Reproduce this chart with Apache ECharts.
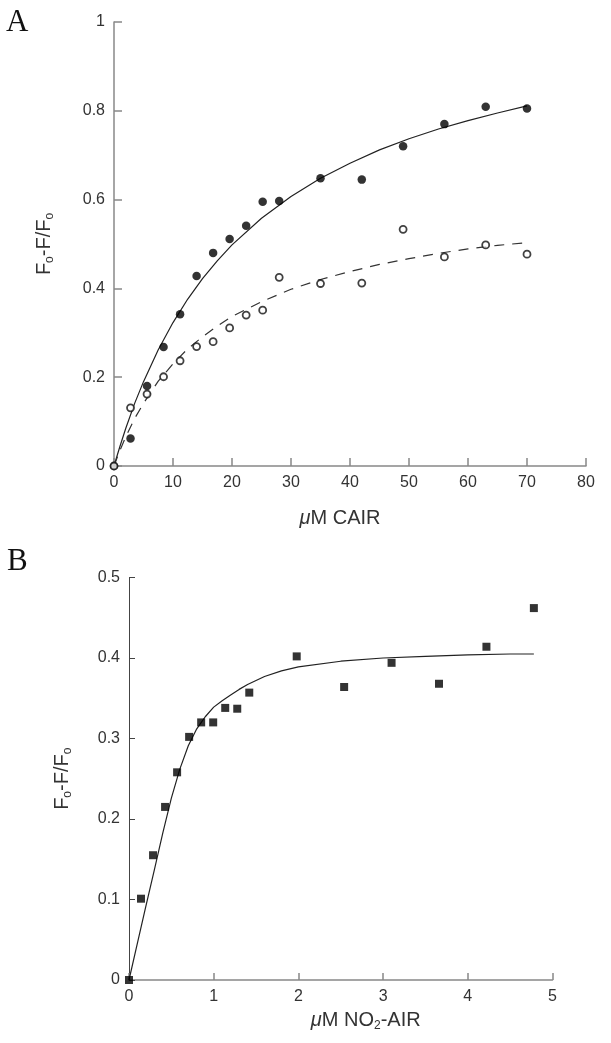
<!DOCTYPE html>
<html>
<head>
<meta charset="utf-8">
<script src="https://cdn.jsdelivr.net/npm/echarts@6/dist/echarts.min.js"></script>
<style>html,body{margin:0;padding:0;background:#fff;}#c{width:611px;height:1043px;}</style>
</head>
<body>
<div id="c"></div>
<script>
// Panel A data
const aX = [0, 2.8, 5.6, 8.4, 11.2, 14, 16.8, 19.6, 22.4, 25.2, 28, 35, 42, 49, 56, 63, 70];
const aFilledY = [0, 0.062, 0.18, 0.268, 0.342, 0.428, 0.48, 0.511, 0.541, 0.595, 0.597, 0.648, 0.645, 0.72, 0.77, 0.809, 0.805];
const aOpenY = [0, 0.131, 0.162, 0.201, 0.237, 0.269, 0.28, 0.311, 0.34, 0.351, 0.425, 0.411, 0.412, 0.533, 0.471, 0.498, 0.477];
const aCurveX = [0, 1, 2, 3.5, 5, 7.5, 10, 12.5, 15, 17.5, 20, 25, 30, 35, 40, 45, 50, 55, 60, 65, 70];
const aSolidY = [0, 0.044, 0.085, 0.141, 0.19, 0.262, 0.323, 0.376, 0.422, 0.462, 0.498, 0.558, 0.607, 0.648, 0.682, 0.712, 0.737, 0.759, 0.778, 0.795, 0.811];
const aDashY = [0, 0.035, 0.066, 0.107, 0.141, 0.191, 0.23, 0.264, 0.291, 0.315, 0.337, 0.37, 0.398, 0.42, 0.438, 0.454, 0.467, 0.479, 0.489, 0.497, 0.503];
const aXTicks = [0, 80, 10];
const aYTicks = [0, 1, 0.2];

// Panel B data
const bX = [0, 0.142, 0.284, 0.426, 0.568, 0.71, 0.852, 0.994, 1.136, 1.278, 1.42, 1.98, 2.54, 3.10, 3.66, 4.22, 4.78];
const bY = [0, 0.101, 0.155, 0.215, 0.258, 0.302, 0.320, 0.320, 0.338, 0.337, 0.357, 0.402, 0.364, 0.394, 0.368, 0.414, 0.462];
const bCurveX = [0, 0.1, 0.2, 0.3, 0.4, 0.5, 0.6, 0.7, 0.8, 0.9, 1.0, 1.1, 1.2, 1.3, 1.4, 1.6, 1.8, 2.0, 2.5, 3.0, 3.5, 4.0, 4.5, 4.78];
const bCurveY = [0, 0.046, 0.092, 0.137, 0.183, 0.226, 0.262, 0.291, 0.312, 0.327, 0.339, 0.347, 0.354, 0.361, 0.367, 0.377, 0.384, 0.389, 0.396, 0.400, 0.402, 0.404, 0.405, 0.405];
const bXTicks = [0, 5, 1];
const bYTicks = [0, 0.5, 0.1];

const zip = (xs, ys) => xs.map((x, i) => [x, ys[i]]);
const FF = '"Liberation Sans", Arial, sans-serif';
const txt = '#333';

const nameRich = {
  s: {fontFamily: FF, fontSize: 12, color: txt, verticalAlign: 'bottom', lineHeight: 12},
  i: {fontFamily: FF, fontSize: 20, color: txt, fontStyle: 'italic', lineHeight: 24},
  n: {fontFamily: FF, fontSize: 20, color: txt, lineHeight: 24}
};

function axisBase(color, width, tickLen, ticks) {
  return {
    type: 'value', min: ticks[0], max: ticks[1], interval: ticks[2],
    axisLine: {show: true, lineStyle: {color: color, width: width}},
    axisTick: {show: true, inside: true, length: tickLen, lineStyle: {color: color, width: width}},
    splitLine: {show: false},
    axisLabel: {color: txt, fontSize: 16, fontFamily: FF, margin: 9}
  };
}

const chart = echarts.init(document.getElementById('c'), null, {renderer: 'canvas'});
chart.setOption({
  animation: false,
  backgroundColor: '#fff',
  grid: [
    {left: 114, right: 25, top: 22, height: 444},
    {left: 129, right: 58.5, top: 577.5, height: 402.5}
  ],
  xAxis: [
    Object.assign(axisBase('#888', 1.5, 8, aXTicks), {
      gridIndex: 0, name: '{i|μ}{n|M CAIR}', nameLocation: 'middle', nameGap: 40,
      nameTextStyle: {fontFamily: FF, fontSize: 20, color: txt, lineHeight: 24, padding: [0, 20, 0, 0], rich: nameRich}
    }),
    Object.assign(axisBase('#888', 1.5, 7, bXTicks), {
      gridIndex: 1, name: '{i|μ}{n|M NO}{s|2}{n|-AIR}', nameLocation: 'middle', nameGap: 28,
      nameTextStyle: {fontFamily: FF, fontSize: 20, color: txt, lineHeight: 24, padding: [0, 0, 0, 50], rich: nameRich}
    })
  ],
  yAxis: [
    Object.assign(axisBase('#888', 1.5, 8, aYTicks), {
      gridIndex: 0, name: '{n|F}{s|o}{n|-F/F}{s|o}', nameLocation: 'middle', nameGap: 58,
      nameTextStyle: {fontFamily: FF, fontSize: 20, color: txt, lineHeight: 24, rich: nameRich}
    }),
    Object.assign(axisBase('#444', 1, 6, bYTicks), {
      gridIndex: 1, name: '{n|F}{s|o}{n|-F/F}{s|o}', nameLocation: 'middle', nameGap: 55,
      nameTextStyle: {fontFamily: FF, fontSize: 20, color: txt, lineHeight: 24, rich: nameRich}
    })
  ],
  graphic: [
    {type: 'text', left: 6, top: 7, style: {text: 'A', font: '31px "Liberation Serif", serif', fill: '#111'}},
    {type: 'text', left: 7, top: 546, style: {text: 'B', font: '31px "Liberation Serif", serif', fill: '#111'}}
  ],
  series: [
    {type: 'line', xAxisIndex: 0, yAxisIndex: 0, data: zip(aCurveX, aSolidY), showSymbol: false, smooth: false,
     lineStyle: {color: '#222', width: 1.2}, clip: false, z: 2},
    {type: 'line', xAxisIndex: 0, yAxisIndex: 0, data: zip(aCurveX, aDashY), showSymbol: false, smooth: false,
     lineStyle: {color: '#333', width: 1.2, type: [10, 8]}, clip: false, z: 2},
    {type: 'scatter', xAxisIndex: 0, yAxisIndex: 0, data: zip(aX, aFilledY), symbol: 'circle', symbolSize: 8.5,
     itemStyle: {color: '#000'}, clip: false, z: 3},
    {type: 'scatter', xAxisIndex: 0, yAxisIndex: 0, data: zip(aX, aOpenY), symbol: 'circle', symbolSize: 7,
     itemStyle: {color: '#fff', borderColor: '#111', borderWidth: 1.8}, clip: false, z: 4},
    {type: 'line', xAxisIndex: 1, yAxisIndex: 1, data: zip(bCurveX, bCurveY), showSymbol: false, smooth: false,
     lineStyle: {color: '#222', width: 1.2}, clip: false, z: 2},
    {type: 'scatter', xAxisIndex: 1, yAxisIndex: 1, data: zip(bX, bY), symbol: 'rect', symbolSize: 8,
     itemStyle: {color: '#000'}, clip: false, z: 3}
  ]
});
</script>
</body>
</html>
